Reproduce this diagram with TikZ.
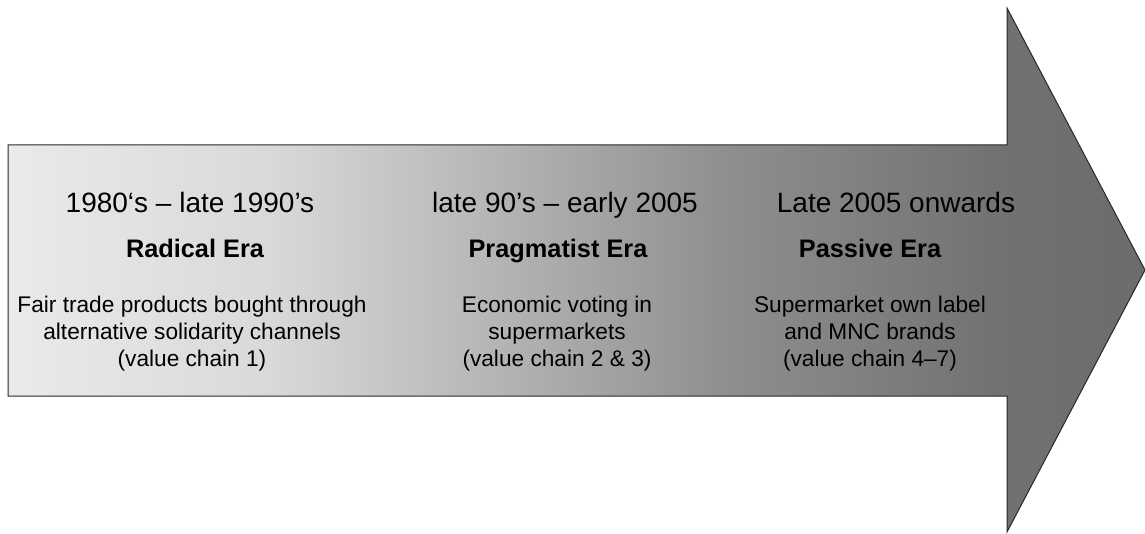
\documentclass[tikz,border=0pt]{standalone}
\usepackage{fontspec}
\setmainfont{Liberation Sans}
\definecolor{g0}{RGB}{234,234,234}
\definecolor{g1}{RGB}{217,217,217}
\definecolor{g2}{RGB}{180,180,180}
\definecolor{g3}{RGB}{142,142,142}
\definecolor{g4}{RGB}{113,113,113}
\definecolor{g5}{RGB}{108,108,108}
\definecolor{edgecol}{RGB}{40,40,40}
\pgfdeclarehorizontalshading{arrowshade}{100bp}{color(0bp)=(g0); color(25bp)=(g0); color(36.52bp)=(g1); color(46.64bp)=(g2); color(56.75bp)=(g3); color(68.93bp)=(g4); color(75bp)=(g5); color(100bp)=(g5)}
\tikzset{
  period/.style={font=\fontsize{21}{25}\selectfont, anchor=base, inner sep=0pt},
  era/.style={font=\bfseries\fontsize{19}{22}\selectfont, anchor=base, inner sep=0pt},
  desc/.style={font=\fontsize{17}{19.9}\selectfont, align=center, anchor=base, inner sep=0pt},
  bigarrow/.style={shade, shading=arrowshade, draw=edgecol, line width=0.75pt}
}
\begin{document}
\begin{tikzpicture}[x=0.75pt,y=-0.75pt]
\useasboundingbox (0,0) rectangle (1145,534);
\path[bigarrow] (8,145) -- (1007,145) -- (1007,8) -- (1145,270) -- (1007,532) -- (1007,396) -- (8,396) -- cycle;

% desc nodes: the base anchor is the baseline of the last line
\node[period] (p1) at (190,213) {1980‘s – late 1990’s};
\node[era] (e1) at (195,258) {Radical Era};
\node[desc] (d1) at (192,366) {Fair trade products bought through\\alternative solidarity channels\\(value chain 1)};

\node[period] (p2) at (565,213) {late 90’s – early 2005};
\node[era] (e2) at (558,258) {Pragmatist Era};
\node[desc] (d2) at (557,366) {Economic voting in\\supermarkets\\(value chain 2 \& 3)};

\node[period] (p3) at (896,213) {Late 2005 onwards};
\node[era] (e3) at (870,258) {Passive Era};
\node[desc] (d3) at (870,366) {Supermarket own label\\and MNC brands\\(value chain 4–7)};
\end{tikzpicture}
\end{document}
